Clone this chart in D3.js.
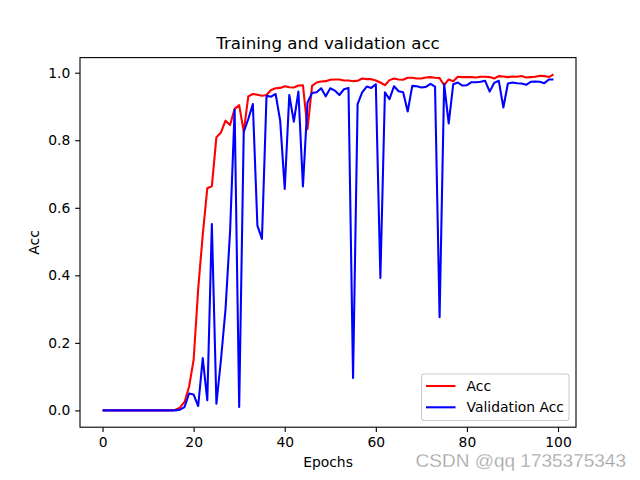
<!DOCTYPE html>
<html>
<head>
<meta charset="utf-8">
<script src="https://cdn.jsdelivr.net/npm/d3@7"></script>
<style>
  html, body { margin: 0; padding: 0; background: #fff; }
  svg { display: block; }
  text { font-family: "DejaVu Sans", sans-serif; }
</style>
</head>
<body>
<svg id="chart" width="640" height="480"></svg>
<script>
// ---- data ----
const epochs = d3.range(0, 100);
const acc = [
  0,0,0,0,0,0,0,0,0,0,
  0,0,0,0,0,0,0.002,0.008,0.025,0.07,
  0.15,0.36,0.52,0.658,0.664,0.809,0.823,0.858,0.845,0.893,
  0.904,0.825,0.930,0.937,0.935,0.932,0.934,0.949,0.954,0.955,
  0.960,0.957,0.956,0.962,0.963,0.833,0.961,0.971,0.974,0.975,
  0.979,0.980,0.980,0.977,0.977,0.975,0.976,0.983,0.981,0.981,
  0.977,0.971,0.963,0.978,0.983,0.980,0.979,0.985,0.985,0.983,
  0.983,0.986,0.987,0.985,0.984,0.963,0.980,0.975,0.988,0.987,
  0.987,0.987,0.986,0.988,0.988,0.987,0.983,0.990,0.989,0.987,
  0.989,0.988,0.990,0.986,0.987,0.988,0.991,0.990,0.987,0.995
];
const valAcc = [
  0,0,0,0,0,0,0,0,0,0,
  0,0,0,0,0,0,0,0.002,0.01,0.05,
  0.047,0.013,0.155,0.03,0.552,0.02,0.15,0.30,0.53,0.890,
  0.01,0.825,0.863,0.907,0.547,0.508,0.932,0.929,0.937,0.858,
  0.656,0.934,0.855,0.944,0.663,0.912,0.940,0.942,0.954,0.930,
  0.954,0.947,0.934,0.951,0.955,0.096,0.907,0.942,0.959,0.955,
  0.966,0.392,0.942,0.922,0.960,0.945,0.942,0.885,0.961,0.960,
  0.956,0.958,0.967,0.959,0.276,0.967,0.850,0.966,0.971,0.962,
  0.963,0.972,0.972,0.973,0.976,0.944,0.970,0.976,0.897,0.968,
  0.971,0.969,0.968,0.964,0.973,0.974,0.973,0.969,0.980,0.980
];
const xTicks = [0, 20, 40, 60, 80, 100];
const yTicks = [0.0, 0.2, 0.4, 0.6, 0.8, 1.0];
const seriesNames = ["Acc", "Validation Acc"];
const seriesColors = ["#ff0000", "#0000ff"];
const titleText = "Training and validation acc";
const xLabelText = "Epochs";
const yLabelText = "Acc";
const watermarkText = "CSDN @qq 1735375343";

// ---- layout (matplotlib default figure) ----
const W = 640, H = 480;
const axL = 80, axR = 576, axT = 57.6, axB = 427.2;

const svg = d3.select("#chart");

const xMin = d3.min(epochs), xMax = d3.max(epochs);
const xPad = (xMax - xMin) * 0.05;
const allY = acc.concat(valAcc);
const yMin = d3.min(allY), yMax = d3.max(allY);
const yPad = (yMax - yMin) * 0.05;

const x = d3.scaleLinear().domain([xMin - xPad, xMax + xPad]).range([axL, axR]);
const y = d3.scaleLinear().domain([yMin - yPad, yMax + yPad]).range([axB, axT]);

const fs = 13.89;

// clip
svg.append("defs").append("clipPath").attr("id", "clip")
  .append("rect").attr("x", axL).attr("y", axT)
  .attr("width", axR - axL).attr("height", axB - axT);

// lines
const line = d3.line().x((d, i) => x(epochs[i])).y(d => y(d));
const plot = svg.append("g").attr("clip-path", "url(#clip)");
[acc, valAcc].forEach((s, k) => {
  plot.append("path").datum(s)
    .attr("d", line)
    .attr("fill", "none")
    .attr("stroke", seriesColors[k])
    .attr("stroke-width", 2.08)
    .attr("stroke-linejoin", "round")
    .attr("stroke-linecap", "butt");
});

// axes
const xAxis = d3.axisBottom(x).tickValues(xTicks).tickFormat(d3.format("d"))
  .tickSize(4.86).tickPadding(4.86);
const yAxis = d3.axisLeft(y).tickValues(yTicks).tickFormat(d3.format(".1f"))
  .tickSize(4.86).tickPadding(4.86);

const gx = svg.append("g").attr("transform", `translate(0,${axB})`).call(xAxis);
const gy = svg.append("g").attr("transform", `translate(${axL},0)`).call(yAxis);
[gx, gy].forEach(g => {
  g.select(".domain").remove();
  g.selectAll(".tick line").attr("stroke", "#000").attr("stroke-width", 1.1);
  g.selectAll(".tick text").attr("fill", "#000")
    .style("font-size", fs + "px").style("font-family", "DejaVu Sans");
});

// spines
svg.append("rect").attr("x", axL).attr("y", axT)
  .attr("width", axR - axL).attr("height", axB - axT)
  .attr("fill", "none").attr("stroke", "#000").attr("stroke-width", 1.1);

// title and labels
svg.append("text").attr("x", (axL + axR) / 2).attr("y", axT - 8.3)
  .attr("text-anchor", "middle").style("font-size", "16.67px").attr("fill", "#000")
  .text(titleText);
svg.append("text").attr("x", (axL + axR) / 2).attr("y", 467)
  .attr("text-anchor", "middle").style("font-size", fs + "px").attr("fill", "#000")
  .text(xLabelText);
svg.append("text").attr("transform", `translate(39,${(axT + axB) / 2}) rotate(-90)`)
  .attr("text-anchor", "middle").style("font-size", fs + "px").attr("fill", "#000")
  .text(yLabelText);

// legend
const lg = svg.append("g");
lg.append("rect").attr("x", 421.5).attr("y", 374).attr("width", 147.5).attr("height", 46.5)
  .attr("rx", 2.8).attr("fill", "#fff").attr("fill-opacity", 0.8)
  .attr("stroke", "#cccccc").attr("stroke-width", 1.1);
seriesNames.forEach((n, k) => {
  const yy = 386 + k * 21.3;
  lg.append("line").attr("x1", 426).attr("x2", 455.5).attr("y1", yy).attr("y2", yy)
    .attr("stroke", seriesColors[k]).attr("stroke-width", 2.08);
  lg.append("text").attr("x", 466.5).attr("y", yy + 5)
    .style("font-size", fs + "px").attr("fill", "#000").text(n);
});

// watermark
svg.append("text").attr("x", 626).attr("y", 467).attr("text-anchor", "end")
  .style("font-family", "Liberation Sans, Arial, sans-serif").style("font-size", "19px")
  .attr("fill", "#a0a0a0").attr("stroke", "#ffffff").attr("stroke-width", 0.3)
  .text(watermarkText);
</script>
</body>
</html>
